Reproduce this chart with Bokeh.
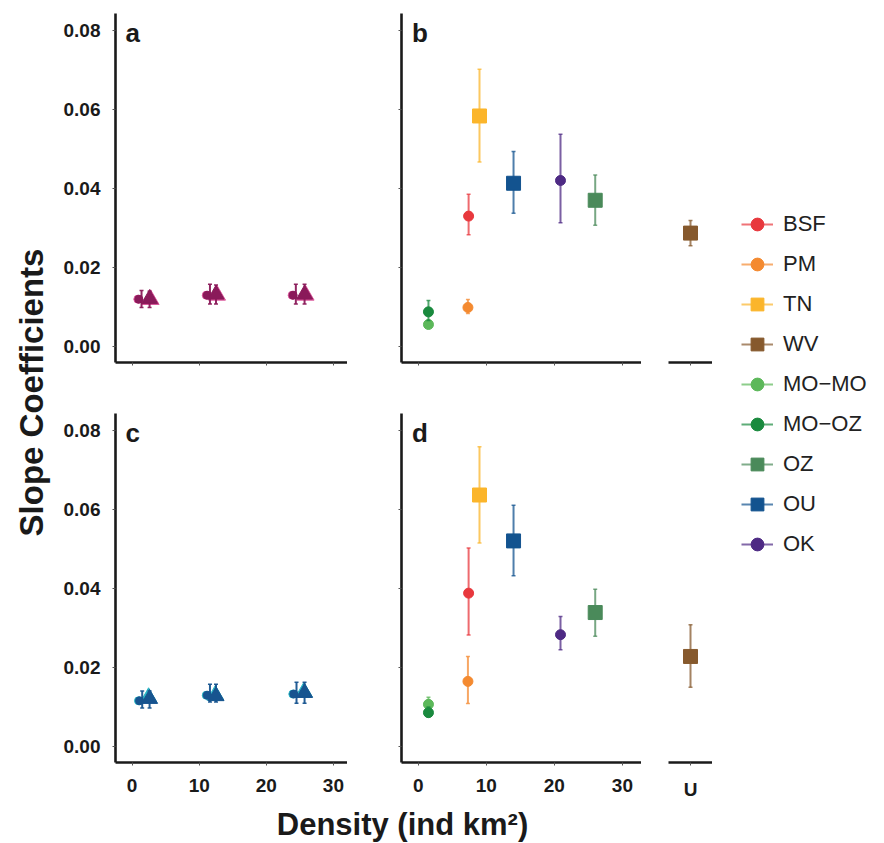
import numpy as np
from bokeh.plotting import figure
from bokeh.models import (Range1d, FixedTicker, PrintfTickFormatter,
                          Label, Legend, LegendItem)
from bokeh.layouts import row, column
from bokeh.embed import file_html
from bokeh.resources import INLINE

FONT = "Liberation Sans"
INK = "#1a1a1a"

# ---------------- data ----------------
groups = ["BSF", "PM", "TN", "WV", "MO\u2212MO", "MO\u2212OZ", "OZ", "OU", "OK"]
colors = ["#e8383d", "#f48a30", "#fbb52b", "#86592d", "#5cb85a",
          "#1a8a3e", "#4a8a5a", "#13538f", "#4e2a84"]
markers = ["circle", "circle", "square", "square", "circle",
           "circle", "square", "square", "circle"]
density = [7.4, 7.3, 9.0, None, 1.5, 1.5, 26.0, 14.0, 20.9]   # WV -> "U"
unknown_pos = [0.0]
unknown_label = ["U"]

b_est = [0.0330, 0.0099, 0.0583, 0.0287, 0.0056, 0.0088, 0.0370, 0.0413, 0.0420]
b_lo = [0.0283, 0.0084, 0.0467, 0.0255, 0.0050, 0.0066, 0.0307, 0.0337, 0.0313]
b_hi = [0.0385, 0.0119, 0.0701, 0.0319, 0.0062, 0.0117, 0.0434, 0.0493, 0.0537]

d_est = [0.0388, 0.0165, 0.0636, 0.0228, 0.0107, 0.0086, 0.0339, 0.0520, 0.0283]
d_lo = [0.0282, 0.0109, 0.0515, 0.0150, 0.0095, 0.0075, 0.0279, 0.0432, 0.0245]
d_hi = [0.0502, 0.0228, 0.0758, 0.0308, 0.0125, 0.0100, 0.0398, 0.0610, 0.0329]

# panel a (pooled, magenta) and c (pooled, blue)
a_circ_x = [1.0, 11.2, 24.0]
a_circ_y = [0.0120, 0.0130, 0.0130]
a_circ_lo = [0.0099, 0.0108, 0.0108]
a_circ_hi = [0.0142, 0.0158, 0.0158]
a_tri_x = [2.6, 12.5, 25.7]
a_tri_y = [0.0121, 0.0132, 0.0132]
a_tri_lo = [0.0099, 0.0108, 0.0108]
a_tri_hi = [0.0140, 0.0156, 0.0158]
a_tri2_x = [2.75, 12.65, 25.85]
a_tri2_y = [0.0119, 0.0130, 0.0130]

c_circ_x = [1.1, 11.2, 24.1]
c_circ_y = [0.0116, 0.0130, 0.0133]
c_circ_lo = [0.0098, 0.0113, 0.0110]
c_circ_hi = [0.0141, 0.0158, 0.0163]
c_tri_x = [2.6, 12.5, 25.7]
c_tri_y = [0.0121, 0.0128, 0.0136]
c_tri_lo = [0.0098, 0.0113, 0.0110]
c_tri_hi = [0.0141, 0.0158, 0.0163]
c_tri2_x = [2.45, 12.4, 25.6]
c_tri2_y = [0.0124, 0.0130, 0.0138]

x_ticks = [0, 10, 20, 30]
y_ticks = [0.00, 0.02, 0.04, 0.06, 0.08]

Y0, Y1 = -0.0040, 0.0842


def style_axes(p, xlabels, ylabels):
    for ax in p.axis:
        ax.axis_line_color = INK
        ax.axis_line_width = 2.6
        ax.major_tick_in = 0
        ax.major_tick_out = 3
        ax.major_tick_line_color = "#555555"
        ax.major_tick_line_width = 1
        ax.minor_tick_line_color = None
        ax.major_label_text_font = FONT
        ax.major_label_text_font_style = "bold"
        ax.major_label_text_color = INK
        ax.major_label_text_font_size = "19px"
    for ax in p.xaxis:
        ax.major_label_standoff = 13
        if not xlabels:
            ax.major_label_overrides = {t: "" for t in ax.ticker.ticks}
    for ax in p.yaxis:
        ax.major_label_standoff = 12
        if not ylabels:
            ax.major_label_overrides = {t: "" for t in y_ticks}
    p.grid.visible = False
    p.outline_line_color = None


def base_fig(width, height, x_range, left, top, bottom, y_axis=True):
    p = figure(width=width, height=height, x_range=x_range,
               y_range=Range1d(Y0, Y1), output_backend="svg", title=None,
               toolbar_location=None, min_border_left=left,
               min_border_right=0, min_border_top=top, min_border_bottom=bottom,
               y_axis_location="left" if y_axis else None)
    p.background_fill_color = "white"
    return p


def add_bar(p, xs, lo, hi, color, alpha=0.75):
    p.segment(x0=xs, y0=lo, x1=xs, y1=hi, line_color=color,
              line_width=2, line_alpha=alpha)
    p.scatter(x=xs, y=lo, marker="dash", size=4, line_color=color,
              line_width=1.5, line_alpha=alpha)
    p.scatter(x=xs, y=hi, marker="dash", size=4, line_color=color,
              line_width=1.5, line_alpha=alpha)


def small_panel(height, top, bottom, letter, col1, col2,
                cx, cy, clo, chi, tx, ty, tlo, thi, t2x, t2y, xlabels):
    p = base_fig(287, height, Range1d(-2.48, 32.1), 54, top, bottom)
    p.scatter(x=t2x, y=t2y, marker="triangle", size=17, fill_color=col2,
              line_color=col2)
    p.scatter(x=[v - 0.15 for v in cx], y=cy, marker="circle", size=8,
              fill_color=col2, line_color=col2)
    add_bar(p, [v + 0.4 for v in cx], clo, chi, col1, alpha=0.95)
    add_bar(p, tx, tlo, thi, col1, alpha=0.95)
    p.scatter(x=cx, y=cy, marker="circle", size=8, fill_color=col1,
              line_color=col1)
    p.scatter(x=tx, y=ty, marker="triangle", size=16, fill_color=col1,
              line_color=col1)
    p.xaxis.ticker = FixedTicker(ticks=x_ticks)
    p.yaxis.ticker = FixedTicker(ticks=y_ticks)
    p.yaxis.formatter = PrintfTickFormatter(format="%.2f")
    style_axes(p, xlabels, True)
    p.add_layout(Label(x=-1.0, y=0.0792, text=letter, text_font=FONT,
                       text_font_style="bold", text_font_size="26px",
                       text_color=INK, text_baseline="alphabetic"))
    return p


def main_panel(height, top, bottom, letter, est, lo, hi, xlabels):
    p = base_fig(294, height, Range1d(-2.46, 32.8), 54, top, bottom)
    for i in range(len(groups)):
        if density[i] is None:
            continue
        x = [density[i]]
        add_bar(p, x, [lo[i]], [hi[i]], colors[i])
        size = 10 if markers[i] == "circle" else 14
        p.scatter(x=x, y=[est[i]], marker=markers[i], size=size,
                  fill_color=colors[i], line_color=colors[i])
    p.xaxis.ticker = FixedTicker(ticks=x_ticks)
    p.yaxis.ticker = FixedTicker(ticks=y_ticks)
    p.yaxis.formatter = PrintfTickFormatter(format="%.2f")
    style_axes(p, xlabels, False)
    p.add_layout(Label(x=-0.9, y=0.0792, text=letter, text_font=FONT,
                       text_font_style="bold", text_font_size="26px",
                       text_color=INK, text_baseline="alphabetic"))
    return p


def u_panel(height, top, bottom, est, lo, hi, xlabels):
    p = base_fig(71, height, Range1d(unknown_pos[0] - 0.5, unknown_pos[0] + 0.5),
                 27, top, bottom, y_axis=False)
    for i in range(len(groups)):
        if density[i] is not None:
            continue
        add_bar(p, unknown_pos, [lo[i]], [hi[i]], colors[i])
        p.scatter(x=unknown_pos, y=[est[i]], marker=markers[i], size=14,
                  fill_color=colors[i], line_color=colors[i])
    p.xaxis.ticker = FixedTicker(ticks=unknown_pos)
    p.xaxis.major_label_overrides = dict(zip(unknown_pos, unknown_label))
    style_axes(p, xlabels, False)
    return p


ROW1_H, ROW2_H, XLAB_H = 408, 395, 40
TOTAL_H = ROW1_H + ROW2_H + XLAB_H

pa = small_panel(ROW1_H, 13, 43, "a", "#8a1a5a", "#d9579a",
                 a_circ_x, a_circ_y, a_circ_lo, a_circ_hi,
                 a_tri_x, a_tri_y, a_tri_lo, a_tri_hi, a_tri2_x, a_tri2_y, False)
pb = main_panel(ROW1_H, 13, 46, "b", b_est, b_lo, b_hi, False)
pu1 = u_panel(ROW1_H, 13, 46, b_est, b_lo, b_hi, False)

pc = small_panel(ROW2_H, 5, 38, "c", "#17548f", "#2bb5c4",
                 c_circ_x, c_circ_y, c_circ_lo, c_circ_hi,
                 c_tri_x, c_tri_y, c_tri_lo, c_tri_hi, c_tri2_x, c_tri2_y, True)
pd = main_panel(ROW2_H, 5, 41, "d", d_est, d_lo, d_hi, True)
pu2 = u_panel(ROW2_H, 5, 41, d_est, d_lo, d_hi, True)


def blank_fig(w, h):
    p = figure(width=w, height=h, x_range=Range1d(0, w), y_range=Range1d(0, h),
               output_backend="svg", toolbar_location=None, min_border=0,
               title=None, x_axis_location=None, y_axis_location=None)
    p.outline_line_color = None
    p.grid.visible = False
    return p


ylab = blank_fig(60, TOTAL_H)
ylab.add_layout(Label(x=31, y=TOTAL_H - 392, text="Slope Coefficients",
                      angle=np.pi / 2, text_align="center", text_baseline="middle",
                      text_font=FONT, text_font_style="bold",
                      text_font_size="33px", text_color=INK))

xlab = blank_fig(652, XLAB_H)
xlab.add_layout(Label(x=342, y=XLAB_H / 2 - 1, text="Density (ind km\u00b2)",
                      text_align="center", text_baseline="middle",
                      text_font=FONT, text_font_style="bold",
                      text_font_size="31px", text_color=INK))

leg = blank_fig(164, TOTAL_H)
items = []
for g, c, m in zip(groups, colors, markers):
    ln = leg.line(x=[-100, -90], y=[-100, -100], line_color=c, line_width=2,
                  line_alpha=0.7)
    sc = leg.scatter(x=[-100], y=[-100], marker=m,
                     size=10 if m == "circle" else 16,
                     fill_color=c, line_color=c)
    items.append(LegendItem(label=g, renderers=[ln, sc]))
legend = Legend(items=items, location=(29, TOTAL_H - 204 - 9 * 40),
                orientation="vertical", padding=0, margin=0, spacing=0,
                glyph_width=32, glyph_height=40, label_height=40,
                label_standoff=10, label_text_font=FONT,
                label_text_font_size="22px", label_text_color="#222222",
                border_line_color=None, background_fill_alpha=0)
leg.add_layout(legend)

layout = row(ylab,
             column(row(pa, pb, pu1), row(pc, pd, pu2), xlab),
             leg)

open("out.html", "w").write(file_html(layout, INLINE))
